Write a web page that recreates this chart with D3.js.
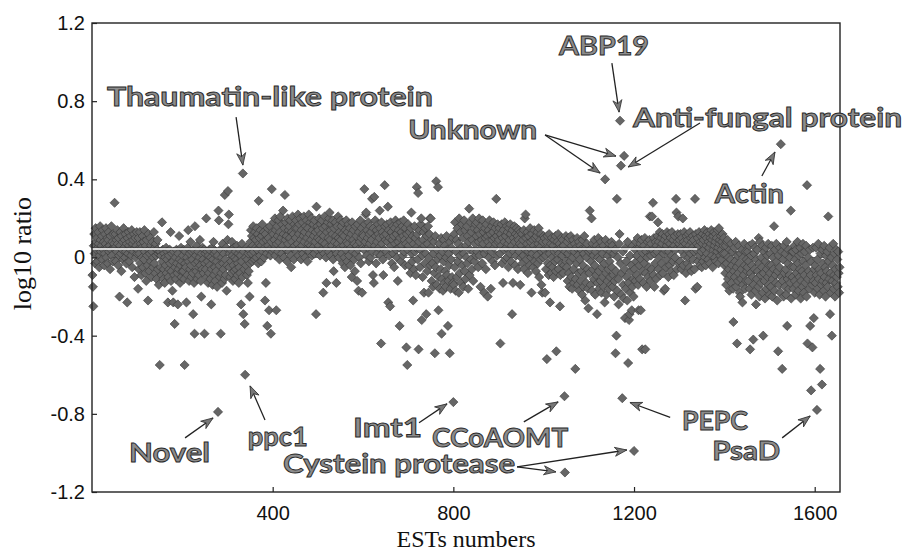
<!DOCTYPE html>
<html>
<head>
<meta charset="utf-8">
<script src="https://cdn.jsdelivr.net/npm/d3@7"></script>
<style>
  body { margin: 0; background: #fff; }
  svg { display: block; }
</style>
</head>
<body>
<div id="SCATTER"></div>
<script>
// log10 ratio for every EST, in EST order (EST number = position + 1)
var ratiosEst1to400 = [
  -.09,-.15,-.25,.06,.12,.02,-.03,.15,.08,.04, .10,-.02,.05,.13,.07,-.05,.01,.16,.09,.03,
  .06,.11,-.01,.14,.04,.08,-.04,.02,.12,.07, .15,.00,.05,.10,-.03,.09,.13,.03,.06,-.06,
  .11,.04,.16,.01,.08,-.02,.12,.05,.07,.28,
  .05,.12,-.02,.09,.03,.14,.07,-.04,.10,.01, -.20,.06,.13,.02,-.07,.11,.04,.08,-.01,.15,
  .05,.09,.00,.12,.03,-.03,.07,-.23,.10,.02, .13,.06,-.02,.08,.04,.11,.01,.14,-.05,.07,
  .09,.03,.12,-.10,.05,.10,.00,.06,.13,.02,
  .04,-.16,.10,-.06,.02,.13,-.03,.07,-.09,.05, .00,.11,-.05,.08,-.01,.14,.03,-.08,.06,-.12,
  .09,.01,-.04,-.22,.12,.04,-.07,.02,.10,-.02, .06,-.10,.03,.08,-.05,.00,.13,-.03,.05,-.08,
  .07,.01,-.11,.04,.09,-.06,.02,-.14,.03,-.55,
  .03,-.05,.01,-.09,.18,-.02,.04,-.11,-.06,.02, -.13,.00,-.04,.05,-.08,-.01,.03,-.23,-.10,.01,
  -.06,.04,-.03,.13,-.12,-.07,.02,-.17,-.02,-.23, .03,-.09,-.34,-.05,.00,-.11,.04,-.03,-.08,-.24,
  .02,-.06,.11,-.01,-.13,-.04,.05,-.10,-.02,-.07,
  .01,-.07,.04,-.11,-.55,-.03,.03,-.05,-.23,.00, -.09,.05,.14,-.02,-.12,.02,-.06,.08,-.04,-.10,
  .03,-.01,-.08,-.29,.04,-.13,-.39,.16,-.03,.01, -.07,.06,-.11,-.02,.03,-.05,-.09,.00,.09,-.04,
  -.12,-.20,.02,-.06,.05,-.01,-.08,.04,-.39,-.03,
  .02,-.06,.20,-.10,.03,-.02,-.13,.01,-.08,.04, -.04,-.11,.00,-.24,-.06,.05,-.14,-.01,.08,-.09,
  .02,-.05,-.12,.03,-.07,-.02,-.15,.01,-.79,.24, .19,-.04,-.10,.04,-.39,-.08,.00,-.13,.07,-.03,
  -.06,.02,-.11,.32,-.01,-.09,.05,-.17,-.04,.09,
  .34,.17,.22,-.05,.02,-.10,.04,-.02,-.08,.08, .01,-.12,-.04,.05,-.07,.00,-.11,.03,-.06,-.01,
  .06,-.09,-.03,.02,-.13,-.05,.04,-.08,.01,-.24, -.02,.07,-.10,.43,-.29,.03,-.06,-.34,-.60,.00,
  -.04,.05,-.09,-.01,-.13,.02,-.07,.04,-.20,-.03,
  .08,.14,.02,.11,-.02,.06,.16,.03,.10,-.01, .13,.05,.09,.00,.15,.04,.12,-.03,.29,.07,
  .10,.01,.14,.06,-.02,.11,.17,.03,.08,.13, .00,.05,-.22,.12,-.13,.09,.02,-.35,.15,.06,
  .10,-.27,.04,.16,.01,-.39,.08,.35,.13,.03
];
var ratiosEst401to800 = [
  .12,.18,.04,.09,.20,.01,.14,-.27,.07,.16, .11,.03,.19,.08,-.01,.13,.21,.05,.10,.02,
  .17,.06,.24,.12,.00,.15,.32,.09,.18,.04, .11,-.02,.20,.07,.14,.03,.16,.10,.19,.01,
  -.05,.13,.08,.21,.05,.12,-.01,.17,.06,.15,
  .10,.19,.03,.15,.07,.22,.01,.12,.17,.05, .20,.09,-.01,.14,.06,.18,.02,.11,.21,.08,
  .13,.00,.16,.04,.19,.10,-.02,.15,.07,.22, .03,.12,.18,.06,.09,.20,.01,.14,.05,.17,
  .11,.02,.19,.08,.13,-.29,.26,.04,.16,.10,
  .14,.06,.20,.09,.01,.17,.12,.04,.19,.08, .15,-.18,.11,.02,.21,.07,.16,.00,-.13,.13,
  .05,.18,.10,.03,.20,.23,.09,.14,.01,.17, .06,.12,.19,-.01,-.07,.15,.08,.04,.18,.11,
  -.13,.02,.16,.07,.21,.10,.00,.13,.05,.19,
  .09,.16,.02,.12,-.03,.18,.06,.11,.00,-.05, .14,.04,.19,.08,-.02,.13,.07,.17,.01,.10,
  .15,-.04,.05,.12,-.10,.18,.03,.09,.14,-.01, .07,-.07,.16,.02,.11,.06,-.12,.17,.04,-.17,
  .13,.00,.08,.19,-.03,.10,.15,-.18,.05,.12,
  .11,.04,.35,.17,.08,.22,.23,.01,.14,.10, .05,.18,-.02,.12,.07,.16,.00,.13,.09,.30,
  .03,-.09,.15,-.13,.31,.06,.19,.11,-.03,.14, .08,.02,.17,.12,.05,.10,.24,.15,.01,-.44,
  .18,.07,.13,-.01,-.09,.11,.04,.37,.16,.09,
  .12,.03,.17,.08,.26,-.23,.14,.01,.10,-.25, .18,.06,.13,-.03,.09,.16,.02,.11,-.05,.15,
  .07,.19,.04,.12,.00,.17,-.12,.08,.14,.05, -.35,.10,.18,-.02,.13,.06,.16,.01,.11,.19,
  .03,.09,-.04,.15,.07,-.46,.12,-.55,.04,.17,
  .06,-.04,.13,.09,-.08,.15,.23,.02,-.02,.11, -.22,.07,-.06,.16,.03,.10,-.09,.05,.36,.12,
  -.01,.33,-.47,.08,.14,-.05,.04,.17,.20,-.32, .01,-.10,.09,.13,-.18,.06,-.03,.15,.02,-.29,
  .11,-.07,.07,.16,-.18,.00,.12,.20,-.04,.20,
  .05,-.12,.09,-.03,-.15,.02,.08,-.08,-.49,.11, -.05,.39,-.14,.04,-.01,.36,-.27,-.10,.07,-.16,
  .01,-.06,.10,-.39,-.11,.03,-.17,-.02,.09,-.13, .06,-.07,-.15,.00,.11,-.09,.04,-.35,-.12,.02,
  -.04,-.49,.08,-.16,-.01,.05,-.10,.10,-.13,-.74
];
var ratiosEst801to1200 = [
  -.14,.12,-.05,.18,-.17,.03,.09,-.10,.15,-.02, .07,-.18,.20,-.08,.01,.13,-.13,.05,.17,-.04,
  .10,-.15,.02,.19,-.07,.14,-.11,.06,.00,.16, -.03,.11,-.16,.08,.25,-.09,.04,.18,-.01,.13,
  -.06,.09,.20,-.12,.03,.15,-.02,.07,.17,.01,
  .11,.18,.03,.14,-.05,.08,.20,.01,.12,-.15, .16,.05,.09,-.03,.19,.07,.13,-.18,.02,.15,
  .10,-.06,.17,.04,.11,-.20,.08,.14,.00,.19, .06,.12,-.16,.03,.16,.09,-.02,.13,.18,.05,
  .10,-.04,.15,.07,.30,.11,.01,.17,.08,.13,
  .09,.15,.02,-.44,.12,.06,.17,-.03,.10,-.13, .14,.04,.08,.18,-.01,.11,.05,.16,.00,.13,
  .07,-.05,.15,.09,.02,.17,.12,-.02,.06,-.29, .14,-.13,.10,.03,.16,.08,-.04,.12,.01,.15,
  .05,.11,-.06,.09,.14,.03,.07,-.14,.13,.00,
  .06,.12,-.03,.09,.01,.14,-.06,.20,.04,.22, .10,-.01,.07,.13,-.08,.03,.11,.05,-.04,.15,
  .08,.00,-.18,.12,.02,.09,-.05,.06,.14,-.02, .10,.04,-.07,.11,.01,.13,-.03,.07,.15,-.10,
  .05,.09,-.01,.12,-.14,.03,-.18,.08,.00,.11,
  .04,.10,-.18,.01,-.06,.08,-.52,.11,-.03,.05, -.09,.12,.02,-.23,-.04,.07,-.08,.10,.00,-.05,
  .06,-.10,.09,.03,-.02,.11,-.07,-.48,.04,.08, -.01,.12,-.06,.02,.07,-.25,-.09,.05,.10,-.03,
  .01,.09,-.08,.06,-.04,-.71,-1.10,.03,.11,-.02,
  -.05,.08,-.12,.02,.10,-.08,-.15,.04,-.02,.11, -.10,.06,-.16,.00,.09,-.06,-.13,.03,.07,-.57,
  -.11,.05,-.03,.10,-.14,.01,-.08,.08,-.17,-.01, .06,-.12,.04,-.07,-.19,.09,-.04,-.15,.02,.11,
  -.09,-.22,.05,-.13,.00,.07,-.06,-.16,-.26,.03,
  -.08,.24,.04,-.14,-.02,.20,-.17,.07,-.06,.01, -.11,.09,-.04,-.19,.03,-.09,.06,-.29,-.13,.00,
  .10,-.07,-.16,.05,-.01,-.12,.08,-.18,-.05,.02, -.10,.06,-.15,-.03,-.23,.40,.09,-.08,-.19,.04,
  -.12,.01,-.06,-.16,.07,-.02,-.10,.03,-.14,.08,
  -.05,.06,-.15,-.09,.02,-.20,-.12,.04,-.49,-.07, -.40,.30,-.17,.00,-.11,-.24,.07,.12,.70,-.03,
  .47,-.19,-.08,-.72,.03,-.14,-.21,.52,-.06,-.31, .05,-.16,-.02,-.10,-.22,.08,-.54,-.13,-.32,-.29,
  .01,-.18,-.07,-.04,-.27,-.15,.06,-.11,-.20,-.99
];
var ratiosEst1201to1655 = [
  -.06,.04,-.12,.08,-.02,-.09,.01,.10,-.14,-.27, .05,-.04,-.11,.07,-.27,-.01,.09,-.47,-.07,.02,
  -.13,.06,-.03,.10,-.47,-.08,.03,-.15,.00,.08, -.10,.05,-.05,.09,.21,-.12,.01,.07,-.06,.21,
  .04,.28,-.09,.10,-.15,.02,-.03,.08,-.11,.06,
  .03,.11,.18,-.06,.08,.00,.13,-.09,.05,.10, -.03,.07,.12,-.08,.02,-.17,.09,.04,-.16,.11,
  -.05,.06,.13,-.01,.08,-.10,.03,.12,-.04,.07, .10,-.07,.01,.13,.05,-.02,.09,-.09,.06,.11,
  .00,.04,.30,.23,-.06,.08,.12,.21,-.03,.07,
  .09,-.02,.12,.05,-.06,.10,.03,.20,-.04,.08, .13,.01,-.22,.07,-.08,.11,.04,-.03,.09,.12,
  .00,.06,-.05,.13,.02,.10,-.07,.08,.05,.11, -.01,.09,.03,-.06,.30,-.16,.12,.04,.07,-.15,
  .10,-.02,.06,.13,.01,-.04,.08,.11,.03,-.05,
  .07,.12,-.02,.09,.04,.14,.00,.11,-.04,.06, .10,.02,.13,-.01,.08,.05,.12,-.03,.10,.07,
  .14,.01,.09,-.05,.11,.04,.13,.06,.00,.08, .12,-.02,.10,.03,.14,.05,-.03,.15,.07,.09,
  .01,.11,.04,-.01,.08,.12,.02,.06,.10,-.04,
  .02,-.08,.06,-.14,-.03,.08,.09,-.11,.00,-.06, -.17,.04,-.09,-.01,.07,-.13,-.04,.03,-.16,-.33,
  -.07,.05,-.10,-.02,.08,-.15,-.05,-.44,.01,-.12, -.08,.06,-.03,-.18,-.20,.02,-.11,-.06,.04,-.23,
  -.14,.00,-.09,.07,-.04,-.16,.03,-.12,-.01,-.07,
  -.05,.03,-.12,-.02,.06,-.16,-.47,-.08,.01,-.19, -.04,.07,-.10,-.42,-.14,.02,-.06,.05,-.17,-.24,
  -.01,-.11,.04,-.07,-.15,.10,-.03,-.20,.08,-.09, -.13,.00,-.05,.06,-.18,-.40,-.08,.03,-.12,-.21,
  -.02,.05,-.16,-.06,.01,-.10,.07,-.14,-.04,-.19,
  -.08,.02,-.15,-.04,.06,-.20,-.11,.00,-.06,.16, -.17,.04,-.09,-.13,.07,-.02,-.22,-.07,-.48,.01,
  -.14,-.05,.05,-.18,.58,-.10,.03,-.57,-.12,-.01, -.20,.06,-.08,-.15,.02,-.06,-.19,.08,-.35,-.11,
  -.03,.04,-.16,-.09,.00,-.13,.24,-.21,-.05,.03,
  -.10,.03,-.16,-.05,.06,-.12,-.01,-.19,.04,-.08, -.14,.08,-.03,-.17,.01,-.10,-.06,.05,-.21,-.12,
  .02,-.07,-.15,.07,-.02,-.18,-.09,.03,-.13,-.04, .06,-.20,.37,-.44,-.11,.00,-.07,-.16,.04,-.35,
  -.09,-.68,-.02,-.14,-.46,.05,-.12,-.31,-.06,-.18,
  -.04,-.13,.05,-.09,-.78,-.01,-.16,.07,-.11,-.06, -.19,-.57,.02,-.08,-.14,-.65,.04,-.12,-.03,-.17,
  .06,-.10,-.05,-.20,.01,-.13,-.07,.03,-.15,.21, -.02,-.11,.05,-.29,-.08,-.18,.00,-.40,-.12,-.04,
  .07,-.16,-.09,.02,-.20,-.06,-.13,.04,-.10,-.01, -.15,.03,-.08,-.18,-.05
];

var xTicks = [400, 800, 1200, 1600];
var yTicks = [-1.2, -0.8, -0.4, 0, 0.4, 0.8, 1.2];

// mean level line drawn across the first part of the series
var meanLevel = 0.045;
var meanLineEnd = 1340;

// named genes: label text, where the label sits [EST, ratio], and the arrows [[from], [to]]
var labelText = ["Thaumatin-like protein", "ABP19", "Anti-fungal protein", "Unknown", "Actin",
  "Novel", "ppc1", "Imt1", "CCoAOMT", "Cystein protease", "PEPC", "PsaD"];
var labelAt = [[33, 0.775], [1034, 1.036], [1198, 0.668], [700, 0.606], [1379, 0.279],
  [82, -1.046], [345, -0.964], [578, -0.918], [753, -0.969], [423, -1.102], [1306, -0.882], [1373, -1.036]];
var arrowLinks = [
  [[319, 0.718], [334, 0.473]],
  [[1151, 0.995], [1167, 0.744]],
  [[1346, 0.688], [1187, 0.463]],
  [[1003, 0.627], [1125, 0.432]],
  [[1003, 0.627], [1160, 0.519]],
  [[1483, 0.417], [1512, 0.54]],
  [[206, -0.923], [268, -0.821]],
  [[383, -0.831], [350, -0.657]],
  [[724, -0.846], [786, -0.749]],
  [[956, -0.841], [1032, -0.739]],
  [[941, -1.071], [1027, -1.097]],
  [[941, -1.071], [1184, -0.985]],
  [[1280, -0.818], [1191, -0.742]],
  [[1528, -0.923], [1590, -0.811]]
];

var WIDTH = 905, HEIGHT = 556;
var MARGIN = {LEFT: 92, RIGHT: 65, TOP: 23, BOTTOM: 64};
// drawn width of each gene label in px (the original lettering is wide)
var LABEL_WIDTHS = [326, 90, 269, 129, 69, 81, 60, 69, 136, 232, 66, 68];

function createScatter() {
  var ratios = ratiosEst1to400.concat(ratiosEst401to800, ratiosEst801to1200, ratiosEst1201to1655);

  var svg = d3.select("#SCATTER")
    .append("svg")
    .attr("width", WIDTH)
    .attr("height", HEIGHT);

  var x = d3.scaleLinear()
    .domain([0, 1656])
    .range([MARGIN.LEFT, WIDTH - MARGIN.RIGHT]);
  var y = d3.scaleLinear()
    .domain([-1.2, 1.2])
    .range([HEIGHT - MARGIN.BOTTOM, MARGIN.TOP]);

  // arrow head
  svg.append("defs").append("marker")
    .attr("id", "head")
    .attr("viewBox", "-13 -6 14 12")
    .attr("refX", 0).attr("refY", 0)
    .attr("markerWidth", 14).attr("markerHeight", 12)
    .attr("markerUnits", "userSpaceOnUse")
    .attr("orient", "auto")
    .append("path")
    .attr("d", "M0,0 L-12,-4.5 L-8.5,0 L-12,4.5 Z")
    .attr("fill", "#777")
    .attr("stroke", "#333")
    .attr("stroke-width", 0.8);

  // zero line sits under the points
  svg.append("line")
    .attr("x1", x(0)).attr("x2", x(1656))
    .attr("y1", y(0)).attr("y2", y(0))
    .attr("stroke", "#444").attr("stroke-width", 0.8);

  var diamond = d3.symbol().type(d3.symbolSquare).size(42);
  svg.append("g")
    .selectAll("path")
    .data(ratios)
    .join("path")
    .attr("d", diamond)
    .attr("transform", function(d, i) { return "translate(" + x(i + 1) + "," + y(d) + ") rotate(45)"; })
    .attr("fill", "#666")
    .attr("stroke", "#3a3a3a")
    .attr("stroke-width", 0.6);

  // mean line: white line with a faint dark edge above it
  svg.append("line")
    .attr("x1", x(0)).attr("x2", x(meanLineEnd))
    .attr("y1", y(meanLevel) - 1.3).attr("y2", y(meanLevel) - 1.3)
    .attr("stroke", "#333").attr("stroke-width", 0.6);
  svg.append("line")
    .attr("x1", x(0)).attr("x2", x(meanLineEnd))
    .attr("y1", y(meanLevel) + 0.3).attr("y2", y(meanLevel) + 0.3)
    .attr("stroke", "#fff").attr("stroke-width", 1.6);

  // frame
  svg.append("rect")
    .attr("x", x(0)).attr("y", y(1.2))
    .attr("width", x(1656) - x(0)).attr("height", y(-1.2) - y(1.2))
    .attr("fill", "none")
    .attr("stroke", "#222")
    .attr("stroke-width", 1.4);

  var xAxis = svg.append("g")
    .attr("transform", "translate(0," + y(-1.2) + ")")
    .call(d3.axisBottom(x).tickValues(xTicks).tickSizeInner(-5).tickSizeOuter(0).tickPadding(14)
      .tickFormat(d3.format("d")));
  var yAxis = svg.append("g")
    .attr("transform", "translate(" + x(0) + ",0)")
    .call(d3.axisLeft(y).tickValues(yTicks).tickSizeInner(-5).tickSizeOuter(0).tickPadding(7)
      .tickFormat(function(d) { return d === 0 ? "0" : String(d); }));

  [xAxis, yAxis].forEach(function(g) {
    g.select(".domain").remove();
    g.selectAll(".tick line").attr("stroke", "#222").attr("stroke-width", 1.2);
    g.selectAll(".tick text")
      .attr("fill", "#111")
      .style("font-family", "'Liberation Sans', Arial, sans-serif")
      .style("font-size", "20px");
  });

  // axis titles
  svg.append("text")
    .attr("x", x(828)).attr("y", 547)
    .attr("text-anchor", "middle")
    .style("font-family", "'Liberation Serif', 'Times New Roman', serif")
    .style("font-size", "24px")
    .attr("fill", "#111")
    .text("ESTs numbers");
  svg.append("text")
    .attr("transform", "translate(31," + y(0.02) + ") rotate(-90)")
    .attr("text-anchor", "middle")
    .style("font-family", "'Liberation Serif', 'Times New Roman', serif")
    .style("font-size", "26px")
    .attr("fill", "#111")
    .text("log10 ratio");

  // arrows to the named genes
  svg.selectAll("line.arrow")
    .data(arrowLinks)
    .join("line")
    .attr("class", "arrow")
    .attr("x1", function(d) { return x(d[0][0]); })
    .attr("y1", function(d) { return y(d[0][1]); })
    .attr("x2", function(d) { return x(d[1][0]); })
    .attr("y2", function(d) { return y(d[1][1]); })
    .attr("stroke", "#222")
    .attr("stroke-width", 1.3)
    .attr("marker-end", "url(#head)");

  svg.selectAll("text.gene")
    .data(labelText)
    .join("text")
    .attr("class", "gene")
    .attr("x", function(d, i) { return x(labelAt[i][0]); })
    .attr("y", function(d, i) { return y(labelAt[i][1]); })
    .attr("textLength", function(d, i) { return LABEL_WIDTHS[i]; })
    .attr("lengthAdjust", "spacingAndGlyphs")
    .style("font-family", "Lato, 'Open Sans', sans-serif")
    .style("font-weight", "700")
    .style("font-size", "27px")
    .attr("fill", "#8c8c8c")
    .attr("stroke", "#2a2a2a")
    .attr("stroke-width", 0.9)
    .text(function(d) { return d; });
}

createScatter();
</script>
</body>
</html>
